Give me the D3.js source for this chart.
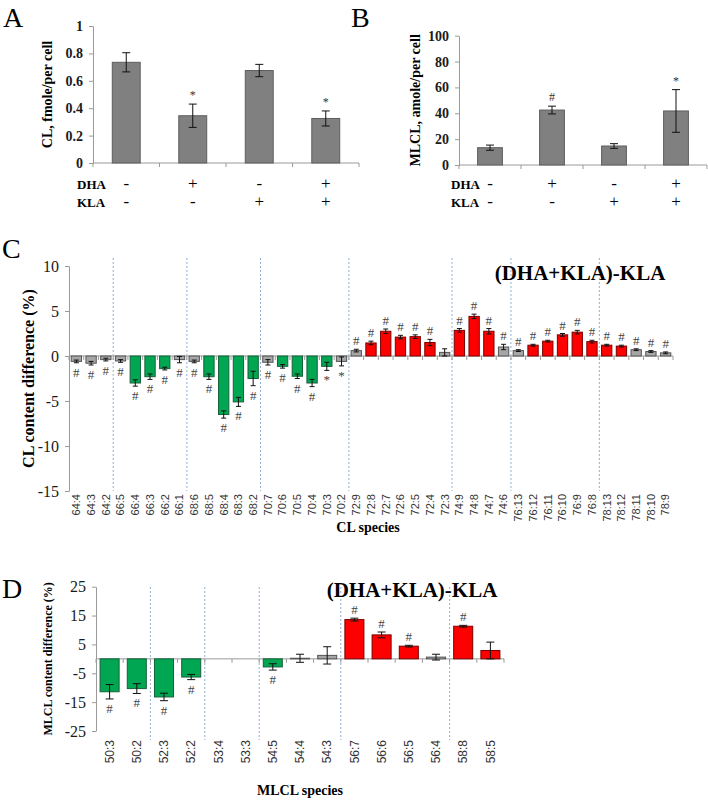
<!DOCTYPE html>
<html>
<head>
<meta charset="utf-8">
<script src="https://cdn.jsdelivr.net/npm/d3@7"></script>
<style>
body { margin: 0; background: #fff; }
svg { display: block; font-family: "Liberation Serif", "Times New Roman", serif; }
</style>
</head>
<body>
<svg id="chart" width="708" height="800"></svg>
<script>
// totals, panels A and B
var treatments = ["ctrl", "dha", "kla", "dhakla"];
var dhaSigns = ["-", "+", "-", "+"];
var klaSigns = ["-", "-", "+", "+"];
var clMean = [0.735, 0.345, 0.675, 0.325];
var clErr = [0.07, 0.085, 0.045, 0.055];
var clMarks = ["", "*", "", "*"];
var clTicks = [0, 0.2, 0.4, 0.6, 0.8, 1];
var mlclMean = [13.4, 42.5, 14.7, 41.8];
var mlclErr = [2, 3, 1.8, 16.5];
var mlclMarks = ["", "#", "", "*"];
var mlclTicks = [0, 20, 40, 60, 80, 100];

// panel C, (DHA+KLA)-KLA difference per CL species
var cSpecies = ["64:4", "64:3", "64:2", "66:5", "66:4", "66:3", "66:2", "66:1",
  "68:6", "68:5", "68:4", "68:3", "68:2", "70:7", "70:6", "70:5", "70:4", "70:3", "70:2",
  "72:9", "72:8", "72:7", "72:6", "72:5", "72:4", "72:3", "74:9", "74:8", "74:7", "74:6",
  "76:13", "76:12", "76:11", "76:10", "76:9", "76:8", "78:13", "78:12", "78:11", "78:10", "78:9"];
var cValues = [-0.6, -0.8, -0.4, -0.55, -3.0, -2.3, -1.4, -0.4,
  -0.6, -2.3, -6.5, -5.1, -2.5, -0.7, -1.15, -2.25, -3.0, -1.15, -0.6,
  0.6, 1.45, 2.75, 2.1, 2.15, 1.5, 0.4, 2.85, 4.4, 2.75, 1.0,
  0.6, 1.2, 1.65, 2.35, 2.65, 1.6, 1.2, 1.1, 0.7, 0.5, 0.35];
var cErrors = [0.15, 0.2, 0.15, 0.15, 0.35, 0.3, 0.15, 0.35,
  0.15, 0.3, 0.4, 0.5, 0.8, 0.3, 0.2, 0.25, 0.4, 0.45, 0.5,
  0.15, 0.2, 0.25, 0.2, 0.2, 0.35, 0.4, 0.2, 0.25, 0.3, 0.3,
  0.1, 0.1, 0.1, 0.15, 0.2, 0.15, 0.1, 0.1, 0.1, 0.1, 0.1];
var cTrend = ["minor", "minor", "minor", "minor", "dec", "dec", "dec", "minor",
  "minor", "dec", "dec", "dec", "dec", "minor", "dec", "dec", "dec", "dec", "minor",
  "minor", "inc", "inc", "inc", "inc", "inc", "minor", "inc", "inc", "inc", "minor",
  "minor", "inc", "inc", "inc", "inc", "inc", "inc", "inc", "minor", "minor", "minor"];
var cMarks = ["#", "#", "#", "#", "#", "#", "#", "#",
  "#", "#", "#", "#", "#", "#", "#", "#", "#", "*", "*",
  "#", "#", "#", "#", "#", "#", "", "#", "#", "#", "#",
  "#", "#", "#", "#", "#", "#", "#", "#", "#", "#", "#"];
var cTicks = [10, 5, 0, -5, -10, -15];

// panel D, (DHA+KLA)-KLA difference per MLCL species
var dSpecies = ["50:3", "50:2", "52:3", "52:2", "53:4", "53:3", "54:5", "54:4", "54:3",
  "56:7", "56:6", "56:5", "56:4", "58:8", "58:5"];
var dValues = [-11.4, -10.3, -13.2, -6.3, 0, 0, -2.8, 0.2, 1.2, 13.6, 8.3, 4.4, 0.6, 11.3, 2.9];
var dErrors = [2.5, 1.7, 1.3, 0.9, 0, 0, 1.1, 1.4, 3.0, 0.5, 1.0, 0.3, 1.0, 0.3, 2.9];
var dTrend = ["dec", "dec", "dec", "dec", "none", "none", "dec", "minor", "minor",
  "inc", "inc", "inc", "minor", "inc", "inc"];
var dMarks = ["#", "#", "#", "#", "", "", "#", "", "", "#", "#", "#", "", "#", ""];
var dTicks = [25, 15, 5, -5, -15, -25];

var svg = d3.select("#chart");

var fills = {dec: "#00a651", inc: "#ff0000", minor: "#a6a6a6", none: "none"};
var strokes = {dec: "#16613a", inc: "#7a0000", minor: "#555", none: "none"};

function styleAxis(g, size, weight) {
  g.attr("font-family", null).attr("font-size", null);
  g.select(".domain").attr("stroke", "#9a9a9a");
  g.selectAll(".tick line").attr("stroke", "#9a9a9a");
  g.selectAll(".tick text")
    .attr("fill", "#1a1a1a")
    .attr("font-size", size)
    .attr("font-weight", weight);
}

function errorBars(g, data, x, y, cap) {
  var eb = g.append("g").selectAll("g")
    .data(data.filter(function (d) { return d.e > 0; }))
    .enter().append("g")
    .attr("stroke", "#111")
    .attr("stroke-width", 1);
  eb.append("line")
    .attr("x1", function (d) { return x(d.k) + x.bandwidth() / 2; })
    .attr("x2", function (d) { return x(d.k) + x.bandwidth() / 2; })
    .attr("y1", function (d) { return y(d.v - d.e); })
    .attr("y2", function (d) { return y(d.v + d.e); });
  [-1, 1].forEach(function (s) {
    eb.append("line")
      .attr("x1", function (d) { return x(d.k) + x.bandwidth() / 2 - cap; })
      .attr("x2", function (d) { return x(d.k) + x.bandwidth() / 2 + cap; })
      .attr("y1", function (d) { return y(d.v + s * d.e); })
      .attr("y2", function (d) { return y(d.v + s * d.e); });
  });
}

function drawTotals(o) {
  var data = treatments.map(function (k, i) {
    return {k: k, v: o.mean[i], e: o.err[i], m: o.marks[i]};
  });
  var x = d3.scaleBand()
    .domain(treatments)
    .range([o.left, o.right])
    .paddingInner(o.pad)
    .paddingOuter(o.pad / 2);
  var y = d3.scaleLinear().domain([0, o.ticks[o.ticks.length - 1]]).range([o.bottom, o.top]);
  var g = svg.append("g");

  g.append("g")
    .attr("transform", "translate(" + o.left + ",0)")
    .call(d3.axisLeft(y).tickValues(o.ticks).tickSize(4).tickPadding(6).tickSizeOuter(0)
      .tickFormat(function (d) { return String(d); }))
    .call(styleAxis, 14, "bold");

  g.append("line")
    .attr("x1", o.left).attr("x2", o.right)
    .attr("y1", y(0)).attr("y2", y(0))
    .attr("stroke", "#9a9a9a");
  g.selectAll(".sep")
    .data(treatments.concat(["end"]))
    .enter().append("line")
    .attr("x1", function (d, i) { return o.left + i * x.step(); })
    .attr("x2", function (d, i) { return o.left + i * x.step(); })
    .attr("y1", y(0)).attr("y2", y(0) + 4)
    .attr("stroke", "#9a9a9a");

  g.selectAll(".bar")
    .data(data)
    .enter().append("rect")
    .attr("x", function (d) { return x(d.k); })
    .attr("y", function (d) { return y(d.v); })
    .attr("width", x.bandwidth())
    .attr("height", function (d) { return y(0) - y(d.v); })
    .attr("fill", "#808080")
    .attr("stroke", "#5e5e5e");

  errorBars(g, data, x, y, 4);

  g.selectAll(".mark")
    .data(data)
    .enter().append("text")
    .attr("x", function (d) { return x(d.k) + x.bandwidth() / 2; })
    .attr("y", function (d) { return y(d.v + d.e) - 5; })
    .attr("text-anchor", "middle")
    .attr("font-size", 12)
    .attr("fill", "#333")
    .text(function (d) { return d.m; });

  g.append("text")
    .attr("transform", "translate(" + o.labelX + "," + ((o.top + o.bottom) / 2) + ") rotate(-90)")
    .attr("text-anchor", "middle")
    .attr("dy", "0.35em")
    .attr("font-size", 14)
    .attr("font-weight", "bold")
    .text(o.label);

  [["DHA", dhaSigns, 189], ["KLA", klaSigns, 207]].forEach(function (row) {
    g.append("text")
      .attr("x", o.rowX).attr("y", row[2])
      .attr("font-size", 13).attr("font-weight", "bold")
      .text(row[0]);
    g.selectAll(".sign" + row[0])
      .data(treatments)
      .enter().append("text")
      .attr("x", function (d) { return x(d) + x.bandwidth() / 2; })
      .attr("y", row[2])
      .attr("text-anchor", "middle")
      .attr("font-size", 17)
      .text(function (d, i) { return row[1][i]; });
  });

  g.append("text")
    .attr("x", o.letterX).attr("y", 27)
    .attr("font-size", 28)
    .text(o.letter);
}

function drawDiff(o) {
  var data = o.species.map(function (k, i) {
    return {k: k, v: o.values[i], e: o.errors[i], t: o.trend[i], m: o.marks[i]};
  });
  var x = d3.scaleBand().domain(o.species).range([o.left, o.right]).paddingInner(0.3).paddingOuter(0.15);
  var y = d3.scaleLinear().domain([o.ticks[o.ticks.length - 1], o.ticks[0]]).range([o.bottom, o.top]);
  var g = svg.append("g");

  // dashed separators between carbon-number groups
  var seps = [];
  o.species.forEach(function (s, i) {
    if (i > 0 && s.split(":")[0] !== o.species[i - 1].split(":")[0]) seps.push(i);
  });
  g.selectAll(".sep")
    .data(seps)
    .enter().append("line")
    .attr("x1", function (i) { return o.left + i * x.step(); })
    .attr("x2", function (i) { return o.left + i * x.step(); })
    .attr("y1", o.sepTop).attr("y2", o.sepBottom)
    .attr("stroke", "#8fb0d6")
    .attr("stroke-dasharray", "2,2");

  g.append("g")
    .attr("transform", "translate(" + o.left + ",0)")
    .call(d3.axisLeft(y).tickValues(o.ticks).tickSize(4).tickPadding(6).tickSizeOuter(0)
      .tickFormat(function (d) { return String(d); }))
    .call(styleAxis, 16, "normal");

  g.append("line")
    .attr("x1", o.left).attr("x2", o.right)
    .attr("y1", y(0)).attr("y2", y(0))
    .attr("stroke", "#9a9a9a");
  g.selectAll(".tk")
    .data(o.species.concat(["end"]))
    .enter().append("line")
    .attr("x1", function (d, i) { return o.left + i * x.step(); })
    .attr("x2", function (d, i) { return o.left + i * x.step(); })
    .attr("y1", y(0)).attr("y2", y(0) + 4)
    .attr("stroke", "#9a9a9a");

  g.selectAll(".bar")
    .data(data.filter(function (d) { return d.v !== 0; }))
    .enter().append("rect")
    .attr("x", function (d) { return x(d.k); })
    .attr("y", function (d) { return y(Math.max(0, d.v)); })
    .attr("width", x.bandwidth())
    .attr("height", function (d) { return Math.abs(y(d.v) - y(0)); })
    .attr("fill", function (d) { return fills[d.t]; })
    .attr("stroke", function (d) { return strokes[d.t]; });

  errorBars(g, data, x, y, o.cap);

  g.selectAll(".mark")
    .data(data)
    .enter().append("text")
    .attr("x", function (d) { return x(d.k) + x.bandwidth() / 2; })
    .attr("y", function (d) {
      return d.v < 0 ? y(d.v - d.e) + 14 : y(d.v + d.e) - 4;
    })
    .attr("text-anchor", "middle")
    .attr("font-size", 13)
    .attr("fill", "#444")
    .text(function (d) { return d.m; });

  g.selectAll(".lab")
    .data(o.species)
    .enter().append("text")
    .attr("transform", function (d) {
      return "translate(" + (x(d) + x.bandwidth() / 2) + "," + o.labelTop + ") rotate(-90)";
    })
    .attr("text-anchor", "end")
    .attr("dy", "0.35em")
    .attr("font-family", "'Liberation Sans', Arial, sans-serif")
    .attr("font-size", o.labelSize)
    .attr("fill", "#333")
    .text(function (d) { return d; });

  g.append("text")
    .attr("transform", "translate(" + o.yLabelX + "," + ((o.top + o.bottom) / 2) + ") rotate(-90)")
    .attr("text-anchor", "middle")
    .attr("dy", "0.35em")
    .attr("font-size", o.yLabelSize)
    .attr("font-weight", "bold")
    .text(o.yLabel);

  g.append("text")
    .attr("x", o.xLabelX).attr("y", o.xLabelY)
    .attr("text-anchor", "middle")
    .attr("font-size", 14)
    .attr("font-weight", "bold")
    .text(o.xLabel);

  g.append("text")
    .attr("x", o.titleX).attr("y", o.titleY)
    .attr("text-anchor", "middle")
    .attr("font-size", 21)
    .attr("font-weight", "bold")
    .text("(DHA+KLA)-KLA");

  g.append("text")
    .attr("x", 2).attr("y", o.letterY)
    .attr("font-size", 28)
    .text(o.letter);
}

drawTotals({
  mean: clMean, err: clErr, marks: clMarks, ticks: clTicks,
  left: 93, right: 359, top: 26, bottom: 163, pad: 0.58,
  label: "CL, fmole/per cell", labelX: 47, rowX: 77, letter: "A", letterX: 3
});

drawTotals({
  mean: mlclMean, err: mlclErr, marks: mlclMarks, ticks: mlclTicks,
  left: 459, right: 707, top: 35.7, bottom: 165, pad: 0.6,
  label: "MLCL, amole/per cell", labelX: 415, rowX: 451, letter: "B", letterX: 351
});

drawDiff({
  species: cSpecies, values: cValues, errors: cErrors, trend: cTrend, marks: cMarks, ticks: cTicks,
  left: 69, right: 673, top: 266, bottom: 491, sepTop: 258, sepBottom: 491, cap: 2.5,
  labelTop: 494, labelSize: 11,
  yLabel: "CL content difference (%)", yLabelX: 28, yLabelSize: 16,
  xLabel: "CL species", xLabelX: 368, xLabelY: 532,
  titleX: 580, titleY: 280, letter: "C", letterY: 258
});

drawDiff({
  species: dSpecies, values: dValues, errors: dErrors, trend: dTrend, marks: dMarks, ticks: dTicks,
  left: 96, right: 504, top: 586.7, bottom: 731, sepTop: 587, sepBottom: 740, cap: 4,
  labelTop: 740, labelSize: 12,
  yLabel: "MLCL content difference (%)", yLabelX: 48, yLabelSize: 12,
  xLabel: "MLCL species", xLabelX: 300, xLabelY: 795,
  titleX: 412, titleY: 597, letter: "D", letterY: 598
});
</script>
</body>
</html>
